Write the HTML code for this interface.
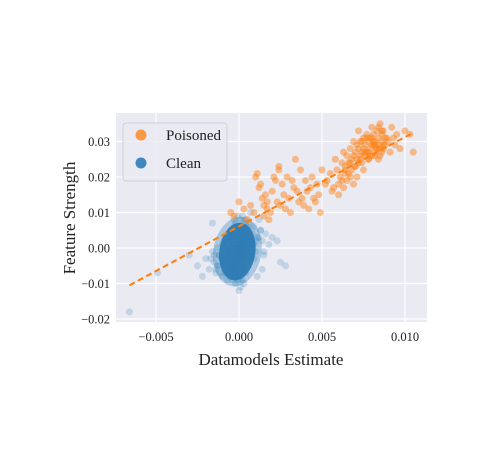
<!DOCTYPE html>
<html><head><meta charset="utf-8">
<style>
html,body{margin:0;padding:0;background:#fff;}
svg text{font-family:"Liberation Serif",serif;fill:#222;}
</style></head>
<body>
<svg id="chart" width="504" height="466" viewBox="0 0 504 466" xmlns="http://www.w3.org/2000/svg">
<rect x="116" y="113" width="311" height="209" fill="#eaeaf2"/>
<g id="grid"></g>
<g id="ticks"></g>
<g id="clean"></g>
<g id="poison"></g>
<line id="fit" stroke="#ff7f0e" stroke-width="2" stroke-dasharray="6,3.5"/>
<g>
<rect x="123" y="123" width="104" height="58" rx="3" fill="#eaeaf2" stroke="#d0d0d8" fill-opacity="0.8"/>
<circle cx="141" cy="135" r="5.5" fill="#ff7f0e" fill-opacity="0.75"/>
<text x="166" y="140" font-size="15">Poisoned</text>
<circle cx="141" cy="163" r="5.5" fill="#1f77b4" fill-opacity="0.85"/>
<text x="166" y="168" font-size="15">Clean</text>
</g>
<text x="271" y="365" font-size="17" text-anchor="middle">Datamodels Estimate</text>
<text transform="translate(75,218) rotate(-90)" font-size="17" text-anchor="middle">Feature Strength</text>
</svg>
<script>
// x values in units of 1e-4, y values in units of 1e-3
const xTicks=[-0.005,0,0.005,0.010];
const xTickLabels=["\u22120.005","0.000","0.005","0.010"];
const yTicks=[-0.02,-0.01,0,0.01,0.02,0.03];
const yTickLabels=["\u22120.02","\u22120.01","0.00","0.01","0.02","0.03"];
const cleanX=[-66,-49,-30,-25,-22,-20,-18,-16,-15,-14,-13,-12,-12,-11,-10,-10,-9,-9,-8,-8,-8,-7,-7,-7,-6,-6,-6,-6,-5,-5,-5,-5,-5,-4,-4,-4,-4,-4,-4,-3,-3,-3,-3,-3,-3,-3,-2,-2,-2,-2,-2,-2,-2,-2,-1,-1,-1,-1,-1,-1,-1,-1,0,0,0,0,0,0,0,0,0,1,1,1,1,1,1,1,1,2,2,2,2,2,2,2,2,3,3,3,3,3,3,3,4,4,4,4,4,4,5,5,5,5,5,6,6,6,6,7,7,7,8,8,9,9,10,11,12,13,14,15,16,18,20,23,25,28,-10,-12,-14,-9,-11,-13,10,11,12,9,13,-15,-16,-17,14,15];
const cleanY=[-18,-7,-2,-5,-8,-3,-6,-1,-4,-7,0,-2,-5,-3,-8,1,-6,2,-4,-1,-7,-9,-3,0,-5,3,-2,-8,-6,-1,2,-4,5,-7,-3,0,4,-9,-5,-2,1,6,-8,-6,-4,8,-3,0,3,-7,-10,-5,7,-1,-2,2,5,-6,-9,-4,9,0,-12,-3,1,4,-7,-1,6,-5,-9,-2,2,5,-4,8,-8,0,-11,-1,3,6,-6,-3,1,9,-9,0,4,-2,7,-5,2,-10,1,5,-3,-7,3,8,0,4,-1,6,-4,2,-2,5,7,3,-1,10,1,4,6,-3,2,3,8,5,2,-1,4,1,3,2,-4,-5,-3,-2,-6,-4,-7,-5,-1,-8,3,1,5,-2,7,-3,-6,-2,0,4];
const poisonX=[-5,-3,0,3,5,7,9,10,11,12,13,14,15,15,16,17,17,18,19,20,21,22,23,24,24,25,26,27,28,29,30,31,32,33,34,35,36,37,38,39,40,41,42,43,44,45,46,47,48,49,50,52,53,55,56,57,58,59,60,60,61,62,62,63,63,64,64,65,65,66,66,67,67,68,68,69,69,70,70,71,71,72,72,73,73,74,74,75,75,76,76,77,77,78,78,79,79,80,80,81,81,82,82,83,83,84,84,85,85,86,86,87,87,88,89,90,91,92,93,94,95,97,100,103,105,64,67,70,73,76,79,82,85,88,72,75,78,81,84,87,74,77,80,83,86,69,71,78,80,82,84,86];
const poisonY=[10,9,13,11,8,12,10,20,21,17,18,14,9,12,15,11,13,8,10,16,20,19,13,23,22,12,18,15,11,20,14,10,19,17,25,16,13,22,14,12,19,16,11,17,20,14,13,18,15,10,22,18,19,21,16,17,25,22,15,18,20,24,19,27,17,22,23,26,19,24,21,28,24,25,22,30,26,23,27,29,25,33,28,26,30,27,24,31,28,29,26,32,27,30,25,28,31,34,26,29,32,30,27,33,28,31,29,35,26,32,30,28,33,29,31,30,27,34,31,29,32,28,33,32,27,21,20,23,25,27,26,29,28,31,24,22,27,30,25,29,30,31,29,28,33,18,20,25,31,26,34,27];
const fitX=[-66,105];
const fitY=[-10.5,32.5];

const xs=v=>239+v*16600;
const ys=v=>248-v*3550;
const NS="http://www.w3.org/2000/svg";
const grid=document.getElementById('grid'), ticks=document.getElementById('ticks');
xTicks.forEach((t,i)=>{
  const l=document.createElementNS(NS,'line');
  
  
  l.setAttribute('x1',xs(t));l.setAttribute('x2',xs(t));l.setAttribute('y1',113);l.setAttribute('y2',322);
  l.setAttribute('stroke','#fff');l.setAttribute('stroke-width','1.2');grid.appendChild(l);
  const tx=document.createElementNS(NS,'text');
  
  
  tx.setAttribute('x',xs(t));tx.setAttribute('y',341);tx.setAttribute('font-size','12.5');tx.setAttribute('text-anchor','middle');
  tx.textContent=xTickLabels[i];ticks.appendChild(tx);
});
yTicks.forEach((t,i)=>{
  const l=document.createElementNS(NS,'line');
  
  
  l.setAttribute('x1',116);l.setAttribute('x2',427);l.setAttribute('y1',ys(t));l.setAttribute('y2',ys(t));
  l.setAttribute('stroke','#fff');l.setAttribute('stroke-width','1.2');grid.appendChild(l);
  const tx=document.createElementNS(NS,'text');
  
  
  tx.setAttribute('x',110);tx.setAttribute('y',ys(t)+4.5);tx.setAttribute('font-size','12.5');tx.setAttribute('text-anchor','end');
  tx.textContent=yTickLabels[i];ticks.appendChild(tx);
});
function pts(g,X,Y,color,op,name){
  const n=Math.min(X.length,Y.length);
  for(let i=0;i<n;i++){
    const c=document.createElementNS(NS,'circle');
    
    
    c.setAttribute('cx',xs(X[i]*1e-4));c.setAttribute('cy',ys(Y[i]*1e-3));c.setAttribute('r',3.5);
    c.setAttribute('fill',color);c.setAttribute('fill-opacity',op);g.appendChild(c);
  }
}
pts(document.getElementById('clean'),cleanX,cleanY,'#1f77b4',0.2,'clean-point');
const cx0=xs(-0.0001), cy0=ys(-0.001);
const halo=document.createElementNS(NS,'ellipse');


halo.setAttribute('cx',cx0);halo.setAttribute('cy',cy0);halo.setAttribute('rx',24);halo.setAttribute('ry',35);
halo.setAttribute('transform',`rotate(10 ${cx0} ${cy0})`);
halo.setAttribute('fill','#1f77b4');halo.setAttribute('fill-opacity','0.3');
document.getElementById('clean').appendChild(halo);
const core=document.createElementNS(NS,'ellipse');


core.setAttribute('cx',cx0);core.setAttribute('cy',cy0);core.setAttribute('rx',18);core.setAttribute('ry',29);
core.setAttribute('transform',`rotate(8 ${cx0} ${cy0})`);
core.setAttribute('fill','#2a79b3');core.setAttribute('fill-opacity','0.92');
document.getElementById('clean').appendChild(core);
pts(document.getElementById('poison'),poisonX,poisonY,'#ff7f0e',0.45,'poisoned-point');
const f=document.getElementById('fit');
f.setAttribute('x1',xs(fitX[0]*1e-4));f.setAttribute('y1',ys(fitY[0]*1e-3));
f.setAttribute('x2',xs(fitX[1]*1e-4));f.setAttribute('y2',ys(fitY[1]*1e-3));
</script>
</body></html>
